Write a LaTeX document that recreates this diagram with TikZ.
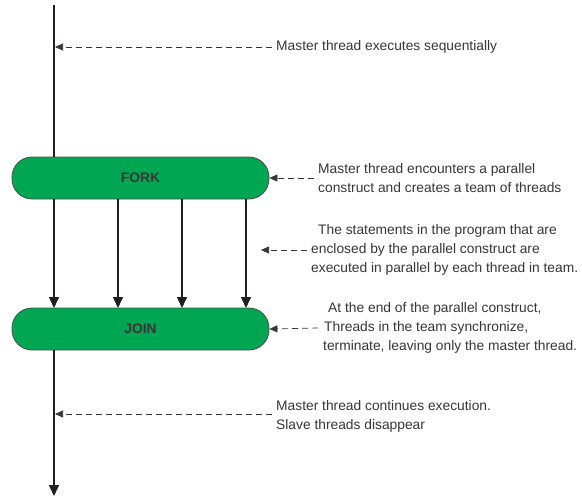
\documentclass[tikz,border=0pt]{standalone}
\usepackage{fontspec}
\setmainfont{Liberation Sans}
\usetikzlibrary{arrows.meta}
\definecolor{fgreen}{RGB}{0,166,81}
\definecolor{ink}{RGB}{35,31,32}
\begin{document}
\begin{tikzpicture}[x=1pt,y=-1pt,
  phase/.style={draw=ink!80,line width=0.8pt,fill=fgreen,rounded corners=20pt,minimum width=257pt,minimum height=42pt,inner sep=0pt,font=\fontsize{13.8}{16}\selectfont\bfseries,text=ink!90},
  flow/.style={draw=ink,line width=1.6pt,-{Triangle[length=11pt,width=10pt]}},
  note/.style={draw=ink!90,line width=0.7pt,dash pattern=on 6pt off 4pt,-{Triangle[length=8pt,width=7pt]}},
  txt/.style={font=\fontsize{13.8}{19}\selectfont,text=ink!90,inner sep=0pt,anchor=west,align=left}]
\useasboundingbox (0,0) rectangle (582,501);
\node[phase] (fork) at (140.5,178) {FORK};
\node[phase] (join) at (140.5,329) {JOIN};
\coordinate (top) at (54,5);
\coordinate (bot) at (54,496);
\draw[draw=ink,line width=1.6pt] (top) -- (fork.north -| top);
\draw[flow] (join.south -| top) -- (bot);
\foreach \x/\n in {54/a,118/b,182/c,246/d}{
  \coordinate (f\n) at (\x,199);
  \coordinate (j\n) at (\x,308);
  \draw[flow] (f\n) -- (j\n);
}
% notes
\node[txt] (t1) at (276,47) {Master thread executes sequentially};
\coordinate (p1) at (55,47);
\draw[note] (272,47) -- (p1);
\node[txt] (t2) at (318,178) {Master thread encounters a parallel\\construct and creates a team of threads};
\coordinate (s2) at (314,178);
\draw[note] (s2) -- (fork.east);
\node[txt] (t3) at (311,250) {\hspace{7pt}The statements in the program that are\\enclosed by the parallel construct are\\executed in parallel by each thread in team.};
\coordinate (s3) at (307,250);
\coordinate (p3) at (261,250);
\draw[note] (s3) -- (p3);
\node[txt] (t4) at (323,328) {\hspace{5pt}At the end of the parallel construct,\\\hspace{1pt}Threads in the team synchronize,\\terminate, leaving only the master thread.};
\coordinate (s4) at (318,328);
\draw[note] (s4) -- (join.east);
\node[txt] (t5) at (276,416) {Master thread continues execution.\\Slave threads disappear};
\coordinate (s5) at (272,414);
\coordinate (p5) at (55,414);
\draw[note] (s5) -- (p5);
\end{tikzpicture}
\end{document}
